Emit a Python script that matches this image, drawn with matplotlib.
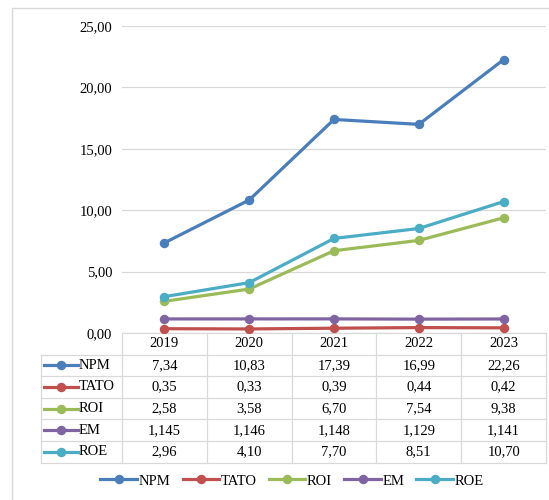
import matplotlib.pyplot as plt
from matplotlib.lines import Line2D
from matplotlib.patches import Rectangle

plt.rcParams['font.family'] = ['Liberation Serif', 'DejaVu Serif']

years = ['2019', '2020', '2021', '2022', '2023']
series_names = ['NPM', 'TATO', 'ROI', 'EM', 'ROE']
npm = [7.34, 10.83, 17.39, 16.99, 22.26]
tato = [0.35, 0.33, 0.39, 0.44, 0.42]
roi = [2.58, 3.58, 6.70, 7.54, 9.38]
em = [1.145, 1.146, 1.148, 1.129, 1.141]
roe = [2.96, 4.10, 7.70, 8.51, 10.70]
# texto da tabela (EM com 3 casas, o resto com 2)
decimals = [2, 2, 2, 3, 2]
colors = ['#4a7ebb', '#c0504d', '#9bbb59', '#8064a2', '#4bacc6']
values = [npm, tato, roi, em, roe]

FS = 10.5
W, H = 549, 500
fig = plt.figure(figsize=(W / 100, H / 100), dpi=100)

# area do grafico em pixels
left, right, top, bottom = 122, 546, 26, 333
ax = fig.add_axes([left / W, 1 - bottom / H, (right - left) / W, (bottom - top) / H])

# moldura externa
fig.patches.append(Rectangle((12 / W, -0.05), 1.1, 1.05 - 8 / H,
                             transform=fig.transFigure, fill=False,
                             edgecolor='#d9d9d9', lw=1.0))

x = range(len(years))
for vals, c in zip(values, colors):
    ax.plot(x, vals, color=c, lw=2.3, marker='o', ms=5.8, zorder=3)

ax.set_xlim(-0.5, len(years) - 0.5)
ax.set_ylim(0, 25)
ax.set_yticks([0, 5, 10, 15, 20, 25])
ax.set_yticklabels([f'{v:.2f}'.replace('.', ',') for v in [0, 5, 10, 15, 20, 25]],
                   fontsize=FS)
ax.tick_params(axis='y', length=0, pad=7)
ax.set_xticks([])
ax.grid(axis='y', color='#d9d9d9', lw=0.9)
ax.set_axisbelow(True)
for s in ax.spines.values():
    s.set_visible(False)

# tabela de dados abaixo do grafico (coordenadas do eixo)
ah = bottom - top
aw = right - left
row_h = 21.6 / ah
label_x0 = (41 - left) / aw
grid_c = '#d9d9d9'
n = len(years)

def hline(y, x0, x1):
    ax.add_line(Line2D([x0, x1], [y, y], transform=ax.transAxes, color=grid_c,
                       lw=0.9, clip_on=False))

def vline(xv, y0, y1):
    ax.add_line(Line2D([xv, xv], [y0, y1], transform=ax.transAxes, color=grid_c,
                       lw=0.9, clip_on=False))

# cabecalho
hline(0, 0, 1)
for i, yr in enumerate(years):
    ax.text((i + 0.5) / n, -0.5 * row_h, yr, transform=ax.transAxes,
            ha='center', va='center', fontsize=FS)
hline(-row_h, label_x0, 1)
for i in range(n + 1):
    vline(i / n, 0, -(len(series_names) + 1) * row_h)
vline(label_x0, -row_h, -(len(series_names) + 1) * row_h)

for r, (name, vals, c, d) in enumerate(zip(series_names, values, colors, decimals)):
    yc = -(r + 1.5) * row_h
    hline(-(r + 2) * row_h, label_x0, 1)
    # chave da legenda dentro da tabela
    kx0 = label_x0 + 3 / aw
    kx1 = label_x0 + 37 / aw
    ax.add_line(Line2D([kx0, kx1], [yc, yc], transform=ax.transAxes, color=c,
                       lw=2.3, clip_on=False))
    ax.add_line(Line2D([(kx0 + kx1) / 2], [yc], transform=ax.transAxes, color=c,
                       marker='o', ms=5.8, clip_on=False))
    ax.text(kx1 + 1 / aw, yc, name, transform=ax.transAxes, ha='left',
            va='center', fontsize=FS)
    for i, v in enumerate(vals):
        ax.text((i + 0.5) / n, yc, f'{v:.{d}f}'.replace('.', ','),
                transform=ax.transAxes, ha='center', va='center', fontsize=FS)

handles = [Line2D([], [], color=c, lw=2.3, marker='o', ms=5.8) for c in colors]
fig.legend(handles, series_names, loc='center', bbox_to_anchor=(292 / W, 1 - 481 / H),
           ncol=5, frameon=False, fontsize=FS, handlelength=2.5,
           columnspacing=0.85, handletextpad=0.1)

fig.savefig('out.png', dpi=100)
